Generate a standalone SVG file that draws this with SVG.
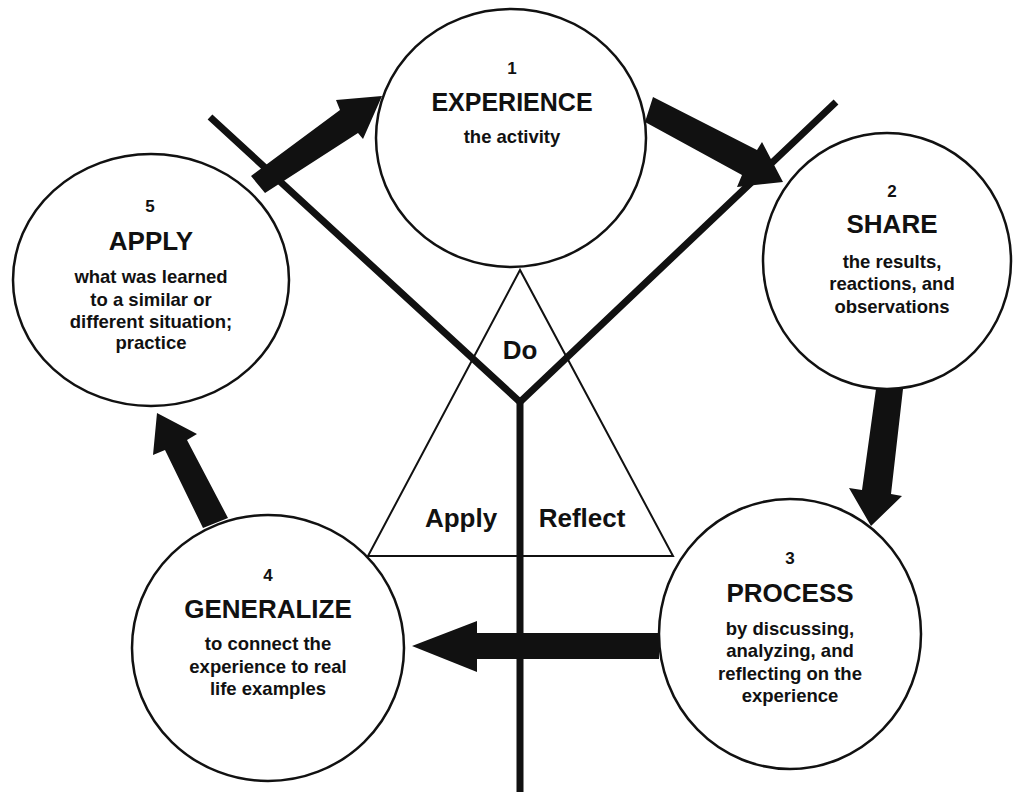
<svg xmlns="http://www.w3.org/2000/svg" width="1013" height="797" viewBox="0 0 1013 797">
<style>
text{font-family:"Liberation Sans",Arial,sans-serif;font-weight:bold;fill:#111;text-anchor:middle}
.num{font-size:17px}
.title{font-size:26px}
.desc{font-size:18.5px}
.lbl{font-size:26px}
.node ellipse{fill:#fff;stroke:#111;stroke-width:2.5}
.y{stroke:#111;stroke-width:7;fill:none;stroke-linejoin:miter}
.tri{fill:none;stroke:#111;stroke-width:2}
.arrow{fill:#111;stroke:none}
</style>
<rect width="1013" height="797" fill="#fff"/>
<g id="frame">
<polygon class="tri" points="520,270 368,556 673,556"/>
<polyline class="y" points="210,117 520,402 836,102"/>
<line class="y" x1="520" y1="402" x2="520" y2="792"/>
<text class="lbl" x="520" y="359">Do</text>
<text class="lbl" x="461" y="527">Apply</text>
<text class="lbl" x="582" y="527">Reflect</text>
</g>
<g id="node1" class="node">
<ellipse cx="511" cy="138" rx="135" ry="129"/>
<text class="num" x="512" y="74">1</text>
<text class="title" x="512" y="111" style="font-size:25px">EXPERIENCE</text>
<text class="desc" x="512" y="143">the activity</text>
</g>
<g id="node2" class="node">
<ellipse cx="887" cy="261" rx="124" ry="128"/>
<text class="num" x="892" y="197">2</text>
<text class="title" x="892" y="233">SHARE</text>
<text class="desc" x="892" y="268">the results,</text>
<text class="desc" x="892" y="290">reactions, and</text>
<text class="desc" x="892" y="313">observations</text>
</g>
<g id="node3" class="node">
<ellipse cx="790" cy="634" rx="131" ry="135"/>
<text class="num" x="790" y="564">3</text>
<text class="title" x="790" y="602">PROCESS</text>
<text class="desc" x="790" y="635">by discussing,</text>
<text class="desc" x="790" y="657">analyzing, and</text>
<text class="desc" x="790" y="680">reflecting on the</text>
<text class="desc" x="790" y="702">experience</text>
</g>
<g id="node4" class="node">
<ellipse cx="268" cy="648" rx="136" ry="133"/>
<text class="num" x="268" y="581">4</text>
<text class="title" x="268" y="618">GENERALIZE</text>
<text class="desc" x="268" y="650">to connect the</text>
<text class="desc" x="268" y="673">experience to real</text>
<text class="desc" x="268" y="695">life examples</text>
</g>
<g id="node5" class="node">
<ellipse cx="151" cy="280" rx="138" ry="126"/>
<text class="num" x="150" y="212">5</text>
<text class="title" x="151" y="250">APPLY</text>
<text class="desc" x="151" y="283">what was learned</text>
<text class="desc" x="151" y="306">to a similar or</text>
<text class="desc" x="151" y="328">different situation;</text>
<text class="desc" x="151" y="349">practice</text>
</g>
<g id="connectors">
<polygon class="arrow" points="251,176 340,110 336,100 382,96 363,139 358,133 265,193"/>
<polygon class="arrow" points="653,97 757,150 762,142 783,182 737,187 742,175 645,122"/>
<polygon class="arrow" points="876,389 903,389 891,494 902,496 871,526 849,488 862,490"/>
<polygon class="arrow" points="659,633 477,633 477,621 412,646 477,672 477,659 659,659"/>
<polygon class="arrow" points="203,528 165,450 153,455 157,413 197,434 187,440 228,518"/>
</g>
</svg>
